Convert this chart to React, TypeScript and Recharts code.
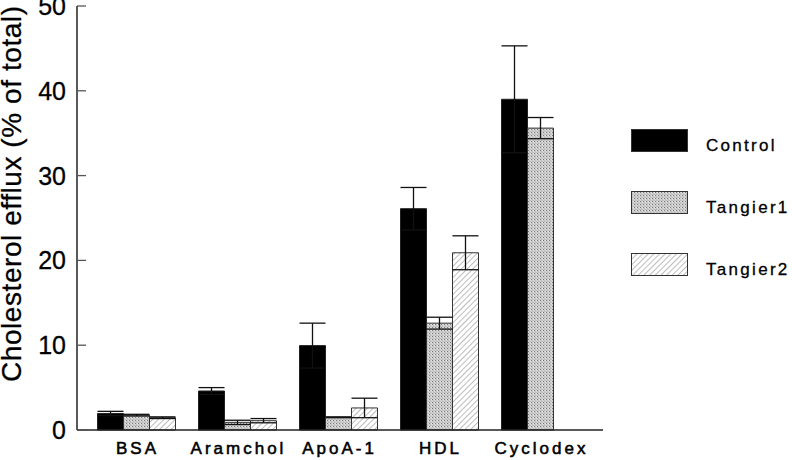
import React from "react";
import {
  BarChart,
  Bar,
  XAxis,
  YAxis,
  ErrorBar,
  Legend,
  Label,
} from "recharts";

const categories = ["BSA", "Aramchol", "ApoA-1", "HDL", "Cyclodex"];
const control = [1.95, 4.6, 9.95, 26.1, 39.0];
const controlErr = [0.25, 0.4, 2.65, 2.5, 6.3];
const tangier1 = [1.75, 0.9, 1.5, 12.6, 35.6];
const tangier1Err = [0.1, 0.25, 0.05, 0.7, 1.25];
const tangier2 = [1.45, 1.1, 2.6, 20.9, null];
const tangier2Err = [0.1, 0.25, 1.15, 2.0, null];
const yTicks = [0, 10, 20, 30, 40, 50];

const data = categories.map((name, i) => ({
  name,
  control: control[i],
  controlErr: controlErr[i],
  tangier1: tangier1[i],
  tangier1Err: tangier1Err[i],
  tangier2: tangier2[i],
  tangier2Err: tangier2Err[i],
}));

const FONT = '"Liberation Sans", Arial, Helvetica, sans-serif';
const FRAME = "#222";

const fills: Record<string, string> = {
  control: "#000",
  tangier1: "url(#stipple)",
  tangier2: "url(#hatch)",
};

function Patterns({ prefix = "" }: { prefix?: string }) {
  return (
    <defs>
      <pattern id={prefix + "stipple"} width="3" height="3" patternUnits="userSpaceOnUse">
        <rect width="3" height="3" fill="#d0d0d0" />
        <rect x="0" y="0" width="1" height="1" fill="#7a7a7a" />
        <rect x="1.5" y="1.5" width="1" height="1" fill="#8c8c8c" />
        <rect x="2" y="0.5" width="1" height="1" fill="#f0f0f0" />
      </pattern>
      <pattern
        id={prefix + "hatch"}
        width="4"
        height="4"
        patternUnits="userSpaceOnUse"
        patternTransform="rotate(45)"
      >
        <rect width="4" height="4" fill="#fff" />
        <line x1="0" y1="0" x2="0" y2="4" stroke="#909090" strokeWidth="1.2" />
      </pattern>
    </defs>
  );
}

function YTick(props: any) {
  const { x, y, payload } = props;
  return (
    <g>
      <line x1={x + 11} x2={x + 20} y1={y} y2={y} stroke="#555" strokeWidth={1.3} />
      <text
        x={x}
        y={y + 9}
        textAnchor="end"
        fontSize={25}
        fontFamily={FONT}
        fill="#000"
        stroke="#000"
        strokeWidth={0.3}
      >
        {payload.value}
      </text>
    </g>
  );
}

function XTick(props: any) {
  const { x, y, payload } = props;
  return (
    <text
      x={x + 1.5}
      y={y + 24}
      textAnchor="middle"
      fontSize={17}
      fontFamily={FONT}
      letterSpacing={3}
      fill="#000"
      stroke="#000"
      strokeWidth={0.55}
    >
      {payload.value}
    </text>
  );
}

function LegendBox(props: any) {
  const { payload = [] } = props;
  return (
    <svg width={161} height={150} style={{ display: "block", overflow: "visible" }}>
      <Patterns prefix="lg-" />
      {payload.map((entry: any, i: number) => {
        const key = entry.dataKey as string;
        const fill = key === "control" ? "#000" : `url(#lg-${key === "tangier1" ? "stipple" : "hatch"})`;
        const dy = i * 62;
        return (
          <g key={key}>
            <rect x={0.5} y={dy + 0.5} width={56} height={22} fill={fill} stroke="#333" strokeWidth={1} />
            <text
              x={75}
              y={dy + 21.5}
              fontSize={17}
              fontFamily={FONT}
              letterSpacing={2.3}
              fill="#000"
              stroke="#000"
              strokeWidth={0.3}
            >
              {entry.value}
            </text>
          </g>
        );
      })}
    </svg>
  );
}

function YLabel() {
  return (
    <text
      x={21}
      y={194}
      transform="rotate(-90, 21, 194)"
      textAnchor="middle"
      fontSize={28}
      fontFamily={FONT}
      textLength={376}
      lengthAdjust="spacing"
      fill="#000"
      stroke="#000"
      strokeWidth={0.3}
    >
      Cholesterol efflux (% of total)
    </text>
  );
}

export default function App() {
  const pad = { left: 8.5, right: 12.5 };
  return (
    <div style={{ position: "absolute", left: 0, top: 0, width: 792, height: 460, background: "#fff" }}>
      <BarChart
        width={792}
        height={460}
        data={data}
        margin={{ top: 6, right: 189, bottom: 0, left: 0 }}
        barCategoryGap={12}
        barGap={0}
      >
        <Patterns />
        <XAxis
          dataKey="name"
          height={30}
          padding={pad}
          tickLine={false}
          tickSize={0}
          tickMargin={0}
          axisLine={{ stroke: FRAME, strokeWidth: 1.5 }}
          tick={<XTick />}
          interval={0}
        />
        <XAxis
          xAxisId="top"
          dataKey="name"
          orientation="top"
          height={0}
          padding={pad}
          tick={false}
          tickLine={false}
          axisLine={{ stroke: FRAME, strokeWidth: 1.5 }}
        />
        <YAxis
          width={77}
          domain={[0, 50]}
          ticks={yTicks}
          tickSize={0}
          tickMargin={11}
          tickLine={false}
          axisLine={{ stroke: FRAME, strokeWidth: 1.5 }}
          tick={<YTick />}
          interval={0}
        >
          <Label content={<YLabel />} />
        </YAxis>
        <YAxis
          yAxisId="right"
          orientation="right"
          width={0}
          domain={[0, 50]}
          tick={false}
          tickLine={false}
          axisLine={{ stroke: FRAME, strokeWidth: 1.5 }}
        />
        <Legend
          layout="vertical"
          align="center"
          verticalAlign="middle"
          content={<LegendBox />}
          wrapperStyle={{ position: "absolute", left: 631, top: 129, width: 161, height: 150 }}
        />
        <Bar dataKey="control" name="Control" fill={fills.control} stroke="#222" strokeWidth={1} isAnimationActive={false}>
          <ErrorBar dataKey="controlErr" width={13} stroke="#111" strokeWidth={1.3} />
        </Bar>
        <Bar dataKey="tangier1" name="Tangier1" fill={fills.tangier1} stroke="#333" strokeWidth={1} isAnimationActive={false}>
          <ErrorBar dataKey="tangier1Err" width={13} stroke="#111" strokeWidth={1.3} />
        </Bar>
        <Bar dataKey="tangier2" name="Tangier2" fill={fills.tangier2} stroke="#333" strokeWidth={1} isAnimationActive={false}>
          <ErrorBar dataKey="tangier2Err" width={13} stroke="#111" strokeWidth={1.3} />
        </Bar>
      </BarChart>
    </div>
  );
}
